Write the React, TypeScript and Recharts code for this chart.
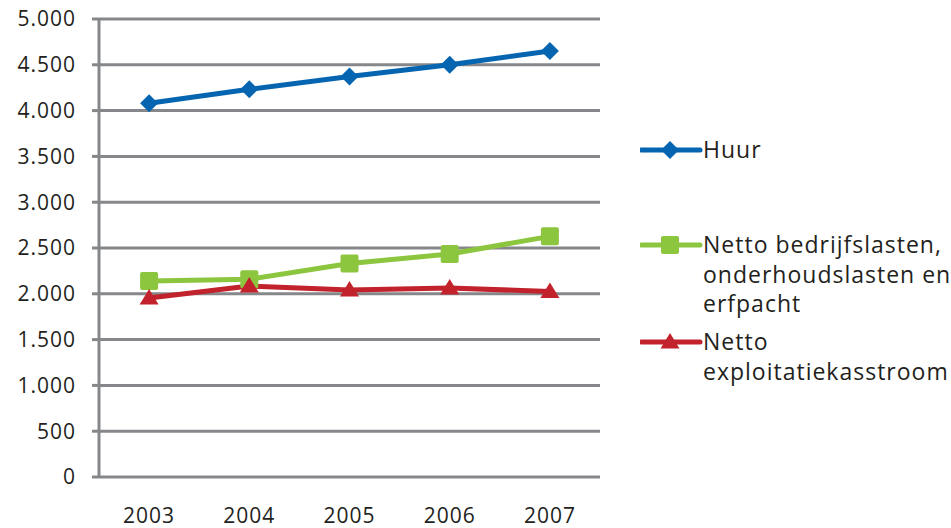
import React from 'react';
import { LineChart, Line, XAxis, YAxis, CartesianGrid } from 'recharts';

const years = [2003, 2004, 2005, 2006, 2007];
const huur = [4080, 4233, 4372, 4500, 4651];
const bedrijfslasten = [2140, 2158, 2330, 2434, 2627];
const kasstroom = [1955, 2085, 2042, 2063, 2025];
const yTicks = [0, 500, 1000, 1500, 2000, 2500, 3000, 3500, 4000, 4500, 5000];
const yearBoundaries = [2002.5, 2003.5, 2004.5, 2005.5, 2006.5, 2007.5];

const seriesNames = {
  huur: 'Huur',
  bedrijfslasten: 'Netto bedrijfslasten, onderhoudslasten en erfpacht',
  kasstroom: 'Netto exploitatiekasstroom',
};
const legendLines = {
  huur: ['Huur'],
  bedrijfslasten: ['Netto bedrijfslasten,', 'onderhoudslasten en', 'erfpacht'],
  kasstroom: ['Netto', 'exploitatiekasstroom'],
};

const data = years.map((y, i) => ({
  year: y,
  huur: huur[i],
  bedrijfslasten: bedrijfslasten[i],
  kasstroom: kasstroom[i],
}));

const BLUE = '#0565b0';
const GREEN = '#8cc63f';
const RED = '#c2222b';
const GRAY = '#86878a';
const TEXT = '#231f20';
const FONT = '"Open Sans", sans-serif';

const fmt = (v: number) => String(v).replace(/\B(?=(\d{3})+(?!\d))/g, '.');

const Diamond = (p: any) => {
  const { cx, cy } = p;
  if (cx == null || cy == null) return null;
  const r = 9;
  return <path d={`M${cx},${cy - r}L${cx + r},${cy}L${cx},${cy + r}L${cx - r},${cy}Z`} fill={BLUE} />;
};
const Square = (p: any) => {
  const { cx, cy } = p;
  if (cx == null || cy == null) return null;
  const s = 9;
  return <rect x={cx - s} y={cy - s} width={2 * s} height={2 * s} rx={2} fill={GREEN} />;
};
const Triangle = (p: any) => {
  const { cx, cy } = p;
  if (cx == null || cy == null) return null;
  return <path d={`M${cx},${cy - 9}L${cx + 9.5},${cy + 6.5}L${cx - 9.5},${cy + 6.5}Z`} fill={RED} />;
};

const legendItems = [
  { key: 'huur', color: BLUE, top: 0, Marker: Diamond },
  { key: 'bedrijfslasten', color: GREEN, top: 95, Marker: Square },
  { key: 'kasstroom', color: RED, top: 192, Marker: Triangle },
];

const LegendBox = () => (
  <div style={{ position: 'absolute', left: 640, top: 135, width: 311, height: 260, fontFamily: FONT }}>
    {legendItems.map((it) => (
      <div key={it.key} style={{ position: 'absolute', left: 0, top: it.top, display: 'flex', alignItems: 'flex-start' }}>
        <svg width={63} height={30} style={{ flex: 'none' }}>
          <line x1={1} y1={15} x2={60} y2={15} stroke={it.color} strokeWidth={5} strokeLinecap="round" />
          <it.Marker cx={30} cy={15} />
        </svg>
        <div style={{ fontSize: 23, lineHeight: '29.5px', color: TEXT, letterSpacing: 1, whiteSpace: 'nowrap' }}>
          {(legendLines as any)[it.key].map((l: string, i: number) => (
            <div key={i}>{l}</div>
          ))}
        </div>
      </div>
    ))}
  </div>
);

export default function App() {
  return (
    <div style={{ position: 'absolute', left: 0, top: 0, width: 951, height: 528, background: '#fff' }}>
      <LineChart width={951} height={528} data={data} margin={{ top: 19, right: 351, bottom: 0, left: 0 }}>
        <CartesianGrid xAxisId="main" vertical={false} stroke={GRAY} strokeWidth={3} />
        <XAxis
          xAxisId="grid"
          type="number"
          dataKey="year"
          domain={[2002.5, 2007.5]}
          allowDataOverflow
          ticks={yearBoundaries}
          interval={0}
          tickFormatter={() => ''}
          height={0}
          axisLine={{ stroke: GRAY, strokeWidth: 3 }}
          tickLine={{ stroke: GRAY, strokeWidth: 3 }}
          tickSize={8}
        />
        <XAxis
          xAxisId="main"
          type="number"
          dataKey="year"
          domain={[2002.5, 2007.5]}
          allowDataOverflow
          ticks={years}
          interval={0}
          height={51}
          axisLine={false}
          tickLine={false}
          tickSize={0}
          tickMargin={31}
          tick={{ fill: TEXT, fontSize: 21, fontFamily: FONT, letterSpacing: 1 }}
        />
        <YAxis
          domain={[0, 5000]}
          ticks={yTicks}
          interval={0}
          width={99}
          tickFormatter={fmt}
          axisLine={{ stroke: GRAY, strokeWidth: 3 }}
          tickLine={{ stroke: GRAY, strokeWidth: 3 }}
          tickSize={7}
          tickMargin={16}
          tick={{ fill: TEXT, fontSize: 21, fontFamily: FONT, letterSpacing: 1 }}
        />
        <Line xAxisId="main" dataKey="huur" name={seriesNames.huur} stroke={BLUE} strokeWidth={5} dot={<Diamond />} activeDot={false} isAnimationActive={false} />
        <Line xAxisId="main" dataKey="bedrijfslasten" name={seriesNames.bedrijfslasten} stroke={GREEN} strokeWidth={5} dot={<Square />} activeDot={false} isAnimationActive={false} />
        <Line xAxisId="main" dataKey="kasstroom" name={seriesNames.kasstroom} stroke={RED} strokeWidth={5} dot={<Triangle />} activeDot={false} isAnimationActive={false} />
      </LineChart>
      <LegendBox />
    </div>
  );
}
